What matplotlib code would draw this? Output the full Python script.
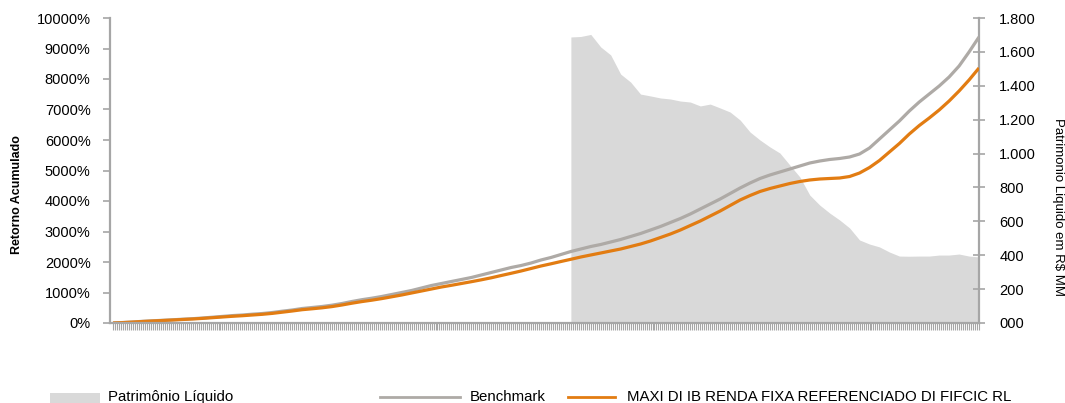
import numpy as np
import matplotlib
matplotlib.use("Agg")
import matplotlib.pyplot as plt
from matplotlib.ticker import FuncFormatter, FixedLocator
from matplotlib.lines import Line2D
from matplotlib.patches import Rectangle

plt.rcParams['font.family'] = ['Liberation Sans', 'DejaVu Sans']

# ---- data (monthly-like sequence) ----
benchmark = [0, 16, 33, 56, 72, 89, 105, 125, 141, 164,
             190, 216, 243, 262, 289, 311, 344, 387, 426, 475,
             508, 541, 584, 639, 705, 764, 813, 869, 934, 1000,
             1066, 1148, 1230, 1295, 1361, 1426, 1492, 1574, 1656, 1738,
             1820, 1885, 1967, 2066, 2148, 2246, 2344, 2426, 2508, 2574,
             2656, 2738, 2836, 2934, 3049, 3164, 3295, 3426, 3574, 3738,
             3902, 4066, 4246, 4426, 4590, 4738, 4853, 4951, 5049, 5148,
             5246, 5311, 5361, 5394, 5443, 5541, 5738, 6033, 6328, 6623,
             6951, 7246, 7508, 7770, 8066, 8426, 8885, 9377]
fundo = [0, 13, 30, 49, 66, 82, 98, 115, 131, 151,
         174, 197, 220, 239, 262, 285, 315, 354, 393, 436,
         466, 498, 538, 590, 649, 702, 748, 800, 859, 918,
         984, 1049, 1115, 1180, 1236, 1295, 1354, 1416, 1482, 1557,
         1630, 1705, 1787, 1869, 1941, 2016, 2089, 2164, 2230, 2295,
         2361, 2426, 2508, 2590, 2689, 2803, 2918, 3049, 3197, 3344,
         3508, 3672, 3853, 4033, 4180, 4312, 4410, 4492, 4574, 4639,
         4689, 4721, 4738, 4754, 4803, 4918, 5098, 5328, 5607, 5885,
         6197, 6475, 6721, 6984, 7279, 7607, 7967, 8361]
pl_start = 46
patrimonio = [1688, 1691, 1703, 1629, 1582, 1469, 1422, 1351, 1340, 1328,
              1322, 1310, 1304, 1281, 1292, 1269, 1245, 1198, 1127, 1080,
              1039, 1003, 932, 862, 755, 696, 649, 608, 561, 490,
              466, 449, 419, 395, 394, 395, 395, 401, 401, 407,
              395, 390]

left_ticks = [0, 1000, 2000, 3000, 4000, 5000, 6000, 7000, 8000, 9000, 10000]
right_ticks = [0, 200, 400, 600, 800, 1000, 1200, 1400, 1600, 1800]

legend_labels = ["Patrimônio Líquido", "Benchmark",
                 "MAXI DI IB RENDA FIXA REFERENCIADO DI FIFCIC RL"]

# ---- colours ----
C_FILL = '#d9d9d9'
C_BENCH = '#aeaaa6'
C_FUND = '#e27c12'
C_AXIS = '#a6a6a6'

fig = plt.figure(figsize=(10.65, 4.03), dpi=100)
ax = fig.add_axes([110/1065, 1-323/403, (979-110)/1065, (323-18)/403])
ax2 = ax.twinx()

n = len(benchmark)
x = np.arange(n)
xpl = np.arange(pl_start, pl_start + len(patrimonio))

ax2.fill_between(xpl, 0, patrimonio, color=C_FILL, linewidth=0)
ax.plot(x, benchmark, color=C_BENCH, lw=2.3, solid_capstyle='butt')
ax.plot(x, fundo, color=C_FUND, lw=2.3, solid_capstyle='butt')

ax.set_zorder(ax2.get_zorder() + 1)
ax.patch.set_visible(False)

ax.set_xlim(-0.3, n - 1)
ax.set_ylim(0, 10000)
ax2.set_ylim(0, 1800)

ax.yaxis.set_major_locator(FixedLocator(left_ticks))
ax.yaxis.set_major_formatter(FuncFormatter(lambda v, p: f"{int(v)}%"))
ax2.yaxis.set_major_locator(FixedLocator(right_ticks))

def br_fmt(v, p):
    v = int(round(v))
    if v >= 1000:
        return f"{v // 1000}.{v % 1000:03d}"
    return f"{v:03d}"
ax2.yaxis.set_major_formatter(FuncFormatter(br_fmt))

ax.set_xticks(np.arange(0, n - 1 + 0.001, 0.2))
ax.set_xticklabels([])

for a in (ax, ax2):
    for s in a.spines.values():
        s.set_visible(False)

ax.spines['left'].set_visible(True)
ax.spines['left'].set_color(C_AXIS)
ax.spines['left'].set_linewidth(1.6)
ax.spines['bottom'].set_visible(True)
ax.spines['bottom'].set_color(C_AXIS)
ax.spines['bottom'].set_linewidth(1.6)
ax2.spines['right'].set_visible(True)
ax2.spines['right'].set_color(C_AXIS)
ax2.spines['right'].set_linewidth(1.6)

ax.tick_params(axis='y', direction='out', length=5, width=1.2, color=C_AXIS,
               labelsize=10.5, pad=9, labelcolor='black')
ax.tick_params(axis='x', direction='out', length=5, width=0.8, color=C_AXIS)
ax2.tick_params(axis='y', direction='inout', length=9, width=1.2, color=C_AXIS,
                labelsize=10.5, pad=10, labelcolor='black')

fig.text(17/1065, 1-195/403, "Retorno Acumulado", rotation=90, ha='center',
         va='center', fontsize=9, fontweight='bold')
fig.text(1058/1065, 1-207/403, "Patrimonio Liquido em R$ MM", rotation=-90,
         ha='center', va='center', fontsize=9.5)

# ---- legend ----
ly = 1 - 397/403
fig.patches.append(Rectangle((50/1065, 1-403/403), 50/1065, 10/403,
                             transform=fig.transFigure, color=C_FILL, lw=0))
fig.text(108/1065, ly, legend_labels[0], ha='left', va='center', fontsize=10.8)
fig.lines.append(Line2D([380/1065, 460/1065], [ly, ly], transform=fig.transFigure,
                        color=C_BENCH, lw=2))
fig.text(470/1065, ly, legend_labels[1], ha='left', va='center', fontsize=10.8)
fig.lines.append(Line2D([568/1065, 615/1065], [ly, ly], transform=fig.transFigure,
                        color=C_FUND, lw=2))
fig.text(627/1065, ly, legend_labels[2], ha='left', va='center', fontsize=10.8)

fig.savefig("out.png", dpi=100)
